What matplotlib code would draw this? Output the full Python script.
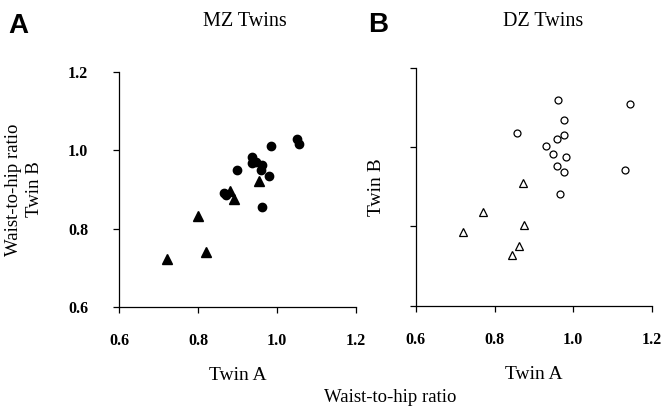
import matplotlib.pyplot as plt

# MZ twins (panel A), filled markers
mz_circ_a = [1.050, 1.056, 0.986, 0.937, 0.936, 0.947, 0.962, 0.959, 0.898, 0.979, 0.865, 0.872, 0.962]
mz_circ_b = [1.030, 1.015, 1.011, 0.982, 0.968, 0.970, 0.962, 0.950, 0.951, 0.934, 0.892, 0.886, 0.855]
mz_tri_a = [0.880, 0.890, 0.955, 0.800, 0.821, 0.722]
mz_tri_b = [0.897, 0.876, 0.923, 0.832, 0.740, 0.722]

# DZ twins (panel B), open markers
dz_circ_a = [0.962, 1.145, 0.977, 0.856, 0.977, 0.958, 0.930, 0.948, 0.981, 0.959, 0.977, 1.130, 0.965]
dz_circ_b = [1.118, 1.108, 1.067, 1.035, 1.031, 1.021, 1.002, 0.982, 0.975, 0.953, 0.937, 0.941, 0.882]
dz_tri_a = [0.873, 0.771, 0.876, 0.720, 0.862, 0.844]
dz_tri_b = [0.909, 0.835, 0.804, 0.786, 0.750, 0.727]

ticks = [0.6, 0.8, 1.0, 1.2]
tick_labels = ['0.6', '0.8', '1.0', '1.2']

plt.rcParams['font.family'] = 'Liberation Serif'

fig = plt.figure(figsize=(6.61, 4.07), dpi=100)
ax1 = fig.add_axes([0.180, 0.2457, 0.3586, 0.5773])
ax2 = fig.add_axes([0.629, 0.2489, 0.3575, 0.5848])


def style(ax, show_y):
    ax.set_xlim(0.6, 1.2)
    ax.set_ylim(0.6, 1.2)
    for s in ['top', 'right']:
        ax.spines[s].set_visible(False)
    for s in ['left', 'bottom']:
        ax.spines[s].set_linewidth(0.9)
    ax.set_xticks(ticks)
    ax.set_xticklabels(tick_labels, fontweight='bold', fontsize=11.5)
    ax.set_yticks(ticks)
    if show_y:
        ax.set_yticklabels(tick_labels, fontweight='bold', fontsize=11.5)
    else:
        ax.set_yticklabels([])
    ax.tick_params(axis='x', direction='out', length=4, width=0.9, pad=15)
    ax.tick_params(axis='y', direction='out', length=4, width=0.9, pad=18)
    ax.set_xlabel('Twin A', fontsize=14, labelpad=13)


style(ax1, True)
ax1.plot(mz_circ_a, mz_circ_b, 'o', color='black', markersize=6, clip_on=False)
ax1.plot(mz_tri_a, mz_tri_b, '^', color='black', markersize=6.5, clip_on=False)
ax1.set_ylabel('Waist-to-hip ratio\nTwin B', fontsize=13.5, labelpad=18, linespacing=1.3)

style(ax2, False)
ax2.plot(dz_circ_a, dz_circ_b, 'o', mfc='white', mec='black', mew=0.9, markersize=5, clip_on=False)
ax2.plot(dz_tri_a, dz_tri_b, '^', mfc='white', mec='black', mew=0.9, markersize=5.5, clip_on=False)
ax2.set_ylabel('Twin B', fontsize=14, labelpad=0)

fig.text(245 / 661, 1 - 21 / 407, 'MZ Twins', ha='center', va='center', fontsize=14.5)
fig.text(543 / 661, 1 - 21 / 407, 'DZ Twins', ha='center', va='center', fontsize=14.5)
fig.text(18 / 661, 1 - 26 / 407, 'A', ha='center', va='center', fontsize=20,
         fontweight='bold', family='Liberation Sans')
fig.text(378 / 661, 1 - 25 / 407, 'B', ha='center', va='center', fontsize=20,
         fontweight='bold', family='Liberation Sans')
fig.text(390 / 661, 1 - 398 / 407, 'Waist-to-hip ratio', ha='center', va='center', fontsize=13.5)

fig.savefig('out.png', dpi=100)
